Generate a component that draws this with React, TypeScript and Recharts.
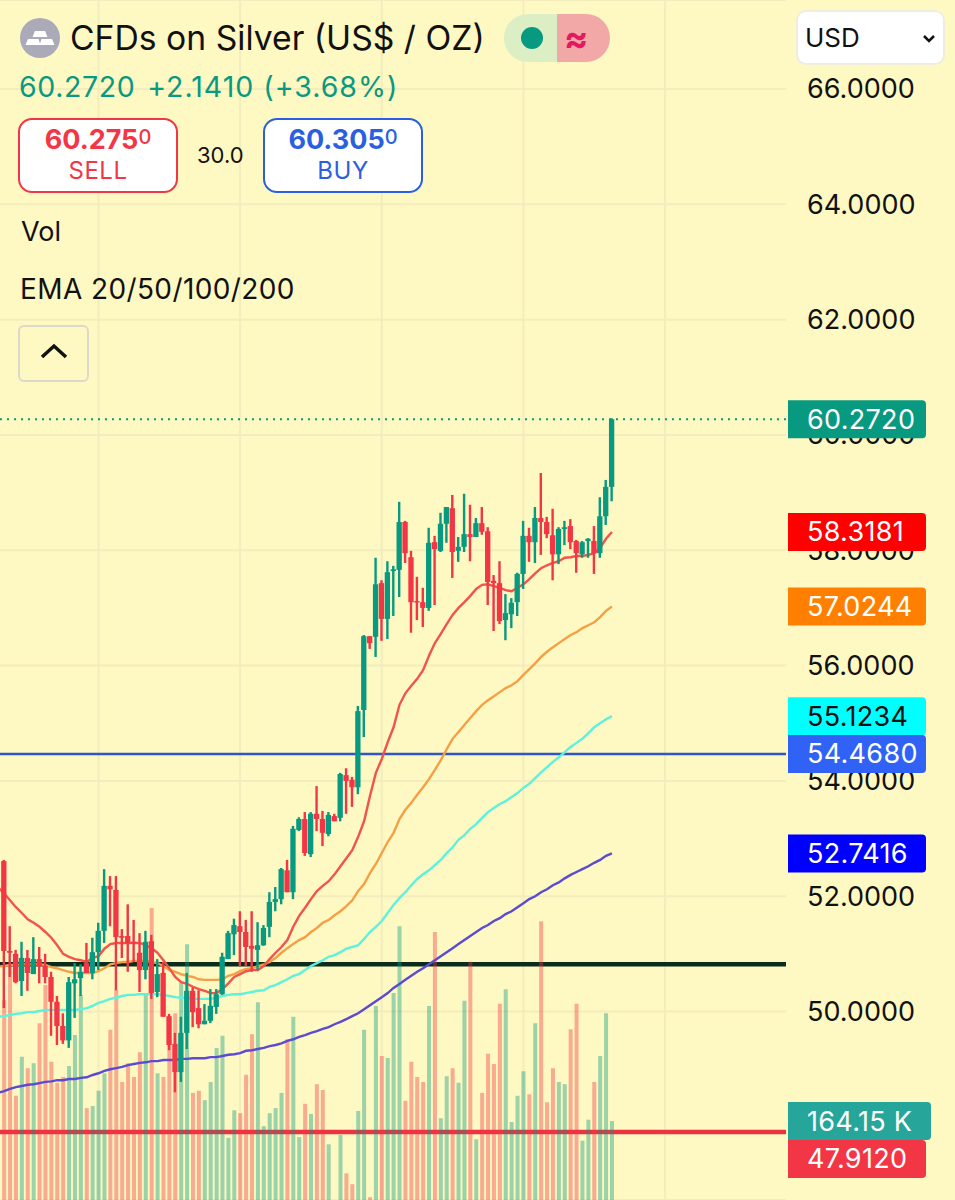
import React from 'react';
import {
  Bar,
  CartesianGrid,
  Cell,
  ComposedChart,
  Line,
  ReferenceLine,
  XAxis,
  YAxis,
} from 'recharts';

const GREEN = '#089981';
const RED = '#F23645';
const FONT = 'Inter, "Noto Sans", sans-serif';

const opens = [
  52.61, 51.05, 51.0, 50.53, 50.93, 50.65, 50.91, 50.79, 50.6, 50.17, 49.75, 49.5, 50.49, 50.58, 50.84, 50.67,
  51.03, 51.4, 52.18, 52.11, 51.31, 51.31, 51.21, 51.02, 50.72, 51.22, 50.34, 50.67, 49.92, 49.44, 48.95, 49.63,
  50.36, 50.06, 49.78, 49.84, 50.08, 50.3, 50.91, 51.34, 51.48, 51.38, 51.14, 51.07, 51.15, 51.47, 51.9, 51.95,
  52.45, 52.07, 53.15, 53.34, 52.73, 53.43, 53.34, 53.08, 53.39, 53.36, 54.1, 54.02, 53.89, 55.23, 56.51, 56.5,
  57.43, 56.81, 57.64, 57.66, 58.49, 57.88, 57.12, 57.1, 57.0, 58.14, 57.99, 58.46, 58.73, 57.99, 58.06, 58.28,
  58.23, 58.47, 58.33, 57.47, 57.43, 56.79, 56.89, 57.1, 57.59, 58.25, 58.14, 58.56, 58.49, 58.26, 57.93, 58.37,
  58.42, 58.16, 57.93, 58.16, 58.16, 57.95, 58.59, 59.1,
];
const highs = [
  52.63, 51.48, 51.07, 51.21, 51.07, 51.29, 51.12, 51.0, 50.69, 50.27, 49.97, 50.6, 50.84, 50.82, 51.19, 51.28,
  51.54, 52.47, 52.35, 52.35, 51.43, 51.86, 51.59, 51.36, 51.4, 51.33, 50.91, 50.86, 49.96, 49.63, 49.91, 50.67,
  50.42, 50.37, 50.13, 50.39, 50.39, 51.02, 51.4, 51.61, 51.74, 51.59, 51.74, 51.55, 51.5, 52.07, 52.16, 52.49,
  52.63, 53.22, 53.37, 53.46, 53.46, 53.91, 53.48, 53.46, 53.43, 54.14, 54.22, 54.07, 55.3, 56.53, 56.51, 57.87,
  57.48, 57.81, 57.73, 58.84, 58.51, 57.99, 57.54, 57.35, 58.39, 58.25, 58.65, 58.75, 58.96, 58.23, 58.98, 58.79,
  58.56, 58.75, 58.4, 57.57, 57.81, 57.24, 57.17, 57.61, 58.51, 58.39, 58.75, 59.34, 58.58, 58.72, 58.4, 58.51,
  58.54, 58.18, 58.16, 58.21, 58.42, 58.92, 59.22, 60.29,
];
const lows = [
  50.06, 50.6, 50.49, 50.27, 50.36, 50.65, 50.49, 50.49, 49.58, 49.42, 49.44, 49.37, 49.89, 50.27, 50.67, 50.56,
  50.72, 51.19, 51.48, 50.37, 50.93, 50.69, 50.86, 50.34, 50.56, 50.22, 50.25, 49.91, 49.33, 48.6, 48.78, 49.35,
  49.73, 49.71, 49.78, 49.8, 49.96, 50.29, 50.91, 50.98, 50.79, 50.79, 50.69, 50.72, 51.14, 51.29, 51.74, 51.86,
  52.07, 51.95, 53.13, 52.7, 52.68, 53.13, 52.87, 53.04, 53.3, 53.3, 53.43, 53.55, 53.77, 54.76, 56.29, 56.15,
  56.43, 56.46, 56.86, 57.19, 57.78, 56.57, 56.79, 56.67, 56.95, 57.05, 57.97, 58.13, 57.52, 57.8, 57.97, 57.81,
  58.23, 58.27, 57.05, 56.6, 56.72, 56.44, 56.65, 56.86, 57.33, 57.8, 57.78, 57.92, 58.21, 57.48, 57.76, 58.09,
  58.02, 57.61, 57.87, 57.87, 57.59, 57.87, 58.44, 58.85,
];
const closes = [
  51.05, 51.02, 50.51, 50.93, 50.67, 50.91, 50.79, 50.6, 50.17, 49.75, 49.5, 50.51, 50.56, 50.69, 50.67, 51.03,
  51.4, 52.18, 52.12, 51.29, 51.28, 51.19, 51.19, 50.72, 51.21, 50.32, 50.65, 49.91, 49.42, 48.95, 49.63, 50.36,
  49.99, 49.78, 49.84, 50.1, 50.3, 50.95, 51.36, 51.5, 51.38, 51.12, 51.09, 51.15, 51.45, 51.9, 51.95, 52.47,
  52.07, 53.17, 53.34, 52.75, 53.43, 53.34, 53.1, 53.41, 53.3, 54.12, 54.0, 53.89, 55.21, 56.51, 56.39, 57.41,
  56.81, 57.62, 57.67, 58.49, 57.95, 57.1, 57.1, 57.0, 58.13, 58.02, 58.46, 58.75, 57.97, 58.06, 58.28, 58.23,
  58.47, 58.32, 57.45, 57.43, 56.77, 56.91, 57.09, 57.59, 58.25, 58.14, 58.56, 58.49, 58.28, 57.93, 58.37, 58.4,
  58.14, 57.95, 58.14, 58.2, 57.95, 58.59, 59.1, 60.272,
];
const volumes = [
  331, 377, 199, 253, 237, 244, 299, 352, 246, 217, 225, 240, 283, 338, 182, 185,
  206, 230, 290, 345, 218, 244, 225, 259, 338, 458, 230, 225, 276, 313, 355, 408,
  203, 206, 193, 218, 265, 282, 141, 179, 175, 228, 284, 328, 157, 175, 182, 203,
  277, 308, 142, 188, 174, 215, 207, 132, 48, 145, 92, 77, 178, 290, 59, 323,
  254, 251, 341, 433, 192, 246, 225, 218, 323, 425, 168, 226, 237, 217, 330, 384,
  139, 203, 257, 243, 326, 346, 163, 199, 233, 201, 299, 440, 190, 237, 218, 215,
  291, 326, 137, 166, 218, 254, 313, 164.15,
];
const ema20 = [
  52.05, 51.93, 51.81, 51.71, 51.6, 51.54, 51.47, 51.38, 51.28, 51.15, 51.0, 50.95, 50.91, 50.89, 50.86, 50.93,
  50.96, 51.09, 51.17, 51.19, 51.19, 51.19, 51.19, 51.19, 51.15, 51.1, 51.02, 50.89, 50.75, 50.6, 50.51, 50.48,
  50.43, 50.39, 50.36, 50.32, 50.32, 50.39, 50.49, 50.6, 50.65, 50.7, 50.72, 50.72, 50.79, 50.91, 51.02, 51.12,
  51.24, 51.47, 51.66, 51.8, 51.95, 52.09, 52.18, 52.26, 52.38, 52.52, 52.66, 52.8, 53.03, 53.3, 53.74, 54.14,
  54.38, 54.67, 54.93, 55.32, 55.52, 55.65, 55.77, 55.92, 56.17, 56.39, 56.55, 56.72, 56.88, 57.0, 57.1, 57.21,
  57.33, 57.4, 57.41, 57.38, 57.35, 57.31, 57.29, 57.35, 57.41, 57.5, 57.6, 57.69, 57.74, 57.78, 57.81, 57.87,
  57.88, 57.9, 57.9, 57.92, 57.95, 58.04, 58.2, 58.3181,
];
const ema50 = [
  50.79, 50.81, 50.81, 50.82, 50.82, 50.82, 50.82, 50.81, 50.77, 50.75, 50.72, 50.69, 50.67, 50.67, 50.67, 50.67,
  50.7, 50.75, 50.82, 50.84, 50.86, 50.86, 50.88, 50.88, 50.88, 50.86, 50.84, 50.79, 50.72, 50.69, 50.65, 50.62,
  50.6, 50.56, 50.55, 50.55, 50.55, 50.56, 50.62, 50.65, 50.7, 50.74, 50.75, 50.79, 50.82, 50.86, 50.93, 51.02,
  51.1, 51.17, 51.24, 51.29, 51.38, 51.45, 51.54, 51.59, 51.67, 51.74, 51.83, 51.93, 52.09, 52.21, 52.4, 52.56,
  52.75, 52.94, 53.1, 53.34, 53.5, 53.62, 53.76, 53.89, 54.03, 54.19, 54.36, 54.55, 54.73, 54.85, 54.97, 55.09,
  55.21, 55.32, 55.4, 55.47, 55.54, 55.61, 55.66, 55.73, 55.84, 55.94, 56.04, 56.15, 56.24, 56.32, 56.39, 56.46,
  56.53, 56.58, 56.65, 56.7, 56.75, 56.84, 56.95, 57.0244,
];
const ema100 = [
  49.92, 49.94, 49.96, 49.97, 49.99, 49.99, 50.01, 50.03, 50.03, 50.03, 50.03, 50.03, 50.03, 50.04, 50.06, 50.1,
  50.15, 50.18, 50.22, 50.24, 50.27, 50.29, 50.29, 50.3, 50.3, 50.3, 50.3, 50.29, 50.27, 50.25, 50.24, 50.24,
  50.22, 50.22, 50.22, 50.22, 50.24, 50.27, 50.29, 50.3, 50.3, 50.32, 50.34, 50.36, 50.37, 50.43, 50.46, 50.51,
  50.56, 50.62, 50.65, 50.72, 50.79, 50.84, 50.89, 50.95, 50.98, 51.03, 51.09, 51.12, 51.15, 51.26, 51.38, 51.47,
  51.57, 51.71, 51.85, 51.97, 52.07, 52.19, 52.3, 52.38, 52.45, 52.54, 52.63, 52.75, 52.85, 52.98, 53.06, 53.17,
  53.25, 53.36, 53.46, 53.53, 53.6, 53.65, 53.72, 53.79, 53.88, 53.95, 54.05, 54.15, 54.24, 54.33, 54.41, 54.5,
  54.59, 54.66, 54.73, 54.83, 54.93, 55.0, 55.07, 55.1234,
];
const ema200 = [
  48.62, 48.66, 48.69, 48.71, 48.73, 48.74, 48.76, 48.78, 48.79, 48.81, 48.81, 48.83, 48.83, 48.85, 48.86, 48.9,
  48.93, 48.97, 49.0, 49.02, 49.04, 49.07, 49.09, 49.11, 49.12, 49.14, 49.14, 49.16, 49.16, 49.16, 49.18, 49.18,
  49.19, 49.19, 49.19, 49.21, 49.21, 49.23, 49.25, 49.26, 49.28, 49.32, 49.33, 49.35, 49.37, 49.4, 49.42, 49.45,
  49.49, 49.52, 49.56, 49.59, 49.63, 49.66, 49.7, 49.73, 49.78, 49.82, 49.87, 49.92, 49.97, 50.04, 50.11, 50.18,
  50.25, 50.32, 50.41, 50.48, 50.55, 50.62, 50.69, 50.75, 50.82, 50.89, 50.96, 51.03, 51.1, 51.17, 51.24, 51.31,
  51.38, 51.45, 51.5, 51.57, 51.62, 51.69, 51.74, 51.81, 51.88, 51.95, 52.0, 52.07, 52.12, 52.19, 52.24, 52.31,
  52.37, 52.42, 52.47, 52.52, 52.58, 52.63, 52.7, 52.7416,
];

// the averages run in from a bar just off the left edge
const offscreenBar = { i: -1, ema20: 52.15, ema50: 50.78, ema100: 49.91, ema200: 48.59 };

const priceTicks = [66, 64, 62, 60, 58, 56, 54, 52, 50];
const timeTicks = [16, 40, 64, 88, 112];

const candles = opens.map((open, i) => ({
  i,
  open,
  high: highs[i],
  low: lows[i],
  close: closes[i],
  volume: volumes[i],
  ema20: ema20[i],
  ema50: ema50[i],
  ema100: ema100[i],
  ema200: ema200[i],
}));
const emaRows = [offscreenBar, ...candles];

function Candle(props: any) {
  const { x, y, width, height, payload } = props;
  const { open, high, low, close } = payload;
  const perUnit = height / (high - low);
  const top = y + (high - Math.max(open, close)) * perUnit;
  const bottom = y + (high - Math.min(open, close)) * perUnit;
  const color = close >= open ? GREEN : RED;
  const mid = x + width / 2;
  return (
    <g>
      <rect x={mid - 1.2} y={y} width={2.4} height={height} fill={color} />
      <rect x={x} y={top} width={width} height={Math.max(bottom - top, 1.5)} fill={color} />
    </g>
  );
}

function PriceTick({ y, payload }: any) {
  return (
    <text x={807} y={y} dominantBaseline="central" fontFamily={FONT} fontSize={27} fill="#111">
      {payload.value.toFixed(4)}
    </text>
  );
}

// dy pushes a tag off its own level when it would sit on another tag
function Tag({ viewBox, text, bg, fg = '#fff', w = 138, dy = 0 }: any) {
  const mid = viewBox.y + dy;
  const y = mid - 19;
  return (
    <g>
      <path d={`M788 ${y}H${788 + w - 4}q4 0 4 4V${y + 34}q0 4 -4 4H788Z`} fill={bg} />
      <text x={807} y={mid} dominantBaseline="central" fontFamily={FONT} fontSize={27} letterSpacing={0.3} fill={fg}>
        {text}
      </text>
    </g>
  );
}

const abs = (left: number, top: number, extra: React.CSSProperties = {}): React.CSSProperties => ({
  position: 'absolute',
  left,
  top,
  fontFamily: FONT,
  whiteSpace: 'nowrap',
  lineHeight: 1,
  ...extra,
});

function QuoteBox({ left, color, price, sup, label }: any) {
  return (
    <div
      style={abs(left, 118, {
        width: 160,
        height: 75,
        boxSizing: 'border-box',
        border: `2px solid ${color}`,
        borderRadius: 14,
        background: '#fff',
        color,
        textAlign: 'center',
      })}
    >
      <div style={{ fontSize: 27, fontWeight: 700, marginTop: 6 }}>
        {price}
        <span style={{ fontSize: 20, fontWeight: 500, verticalAlign: 5 }}>{sup}</span>
      </div>
      <div style={{ fontSize: 24, letterSpacing: 0.5, marginTop: 6 }}>{label}</div>
    </div>
  );
}

function Header() {
  return (
    <>
      <svg style={{ position: 'absolute', left: 20, top: 18 }} width={40} height={40}>
        <circle cx={20} cy={20} r={20} fill="#ABAAB8" />
        <path d="M15 10h10l2.500 6h-15zM8 18h10.500l2 6h-15zM21.500 18h10.500l2.500 6h-15z" fill="#fff" transform="translate(0 3)" />
      </svg>
      <div style={abs(70, 21, { fontSize: 33.7, color: '#111' })}>CFDs on Silver (US$ / OZ)</div>
      <div
        style={abs(504, 14, {
          width: 106,
          height: 48,
          borderRadius: 24,
          overflow: 'hidden',
          background: 'linear-gradient(90deg, #DCEEC4 0 50%, #F2A8A6 50% 100%)',
        })}
      >
        <div style={abs(17, 13, { width: 22, height: 22, borderRadius: 11, background: GREEN })} />
        <div style={abs(60, 6, { fontSize: 36, fontWeight: 700, color: '#E5195F' })}>≈</div>
      </div>
      <div style={abs(19, 73, { fontSize: 28.5, color: GREEN, letterSpacing: 0.6 })}>
        60.2720<span style={{ marginLeft: 12, letterSpacing: 1 }}>+2.1410 (+3.68%)</span>
      </div>
      <QuoteBox left={18} color={RED} price="60.275" sup="0" label="SELL" />
      <div style={abs(197, 144, { fontSize: 22, color: '#111' })}>30.0</div>
      <QuoteBox left={263} color="#2C5FE0" price="60.305" sup="0" label="BUY" />
      <div style={abs(21, 218, { fontSize: 27, color: '#111' })}>Vol</div>
      <div style={abs(20, 275, { fontSize: 28, letterSpacing: 0.4, color: '#111' })}>EMA 20/50/100/200</div>
      <div
        style={abs(18, 325, {
          width: 71,
          height: 57,
          boxSizing: 'border-box',
          border: '2px solid #DCD9CC',
          borderRadius: 6,
        })}
      >
        <svg style={{ position: 'absolute', left: 20, top: 15 }} width={28} height={20}>
          <path d="M2 15L14 4L26 15" fill="none" stroke="#111" strokeWidth={3.500} />
        </svg>
      </div>
      <div
        style={abs(796, 10, {
          width: 149,
          height: 55,
          boxSizing: 'border-box',
          background: '#fff',
          border: '2px solid #F0EDE0',
          borderRadius: 10,
          fontSize: 26,
          color: '#111',
          padding: '13px 0 0 7px',
        })}
      >
        USD
        <svg style={{ position: 'absolute', left: 124, top: 22 }} width={14} height={10}>
          <path d="M2 2L7 7L12 2" fill="none" stroke="#111" strokeWidth={2.500} />
        </svg>
      </div>
    </>
  );
}

// every layer shares the same scales, so stacking them keeps the drawing order of the original
function Layer({ data = candles, labels = false, children }: any) {
  return (
    <div style={{ position: 'absolute', left: 0, top: 0 }}>
      <ComposedChart width={955} height={1200} data={data} margin={{ top: 0, right: 0, bottom: 0, left: 0 }}>
        <XAxis
          dataKey="i"
          type="number"
          scale="linear"
          domain={[-0.695, 132.5]}
          allowDataOverflow
          height={0}
          tick={false}
          tickLine={false}
          axisLine={false}
        />
        <YAxis
          yAxisId="price"
          orientation="right"
          width={169}
          type="number"
          domain={[46.732, 67.5435]}
          allowDataOverflow
          ticks={priceTicks}
          interval={0}
          tick={labels ? <PriceTick /> : false}
          tickLine={false}
          axisLine={false}
        />
        <YAxis yAxisId="volume" hide type="number" domain={[55.2, 1711.2]} allowDataOverflow />
        {children}
      </ComposedChart>
    </div>
  );
}

export default function App() {
  return (
    <div style={{ position: 'absolute', left: 0, top: 0, width: 955, height: 1200, background: '#FEF8C2', overflow: 'hidden' }}>
      <Layer labels>
        <CartesianGrid yAxisId="price" vertical={false} stroke="#F3ECBC" strokeWidth={2} />
        {timeTicks.map((t) => (
          <ReferenceLine key={t} yAxisId="price" x={t} stroke="#F3ECBC" strokeWidth={2} />
        ))}
        <ReferenceLine yAxisId="price" y={50.82} stroke="#0B2B1C" strokeWidth={4.500} />
        <ReferenceLine yAxisId="price" y={47.912} stroke="#EC3344" strokeWidth={4.500} />
        <ReferenceLine yAxisId="price" y={54.468} stroke="#2F55C8" strokeWidth={2.500} />
        <ReferenceLine yAxisId="price" y={60.272} stroke={GREEN} strokeWidth={2} strokeDasharray="2 5" />
      </Layer>

      <Layer>
        <Bar yAxisId="volume" dataKey="volume" barSize={4} isAnimationActive={false}>
          {candles.map((r) => (
            <Cell key={r.i} fill={r.close >= r.open ? GREEN : RED} fillOpacity={0.4} />
          ))}
        </Bar>
      </Layer>

      <Layer data={emaRows}>
        <Line yAxisId="price" dataKey="ema200" type="linear" stroke="#5B4BD2" strokeWidth={2.400} dot={false} activeDot={false} isAnimationActive={false} />
        <Line yAxisId="price" dataKey="ema100" type="linear" stroke="#5DF2DE" strokeWidth={2.400} dot={false} activeDot={false} isAnimationActive={false} />
        <Line yAxisId="price" dataKey="ema50" type="linear" stroke="#F6A045" strokeWidth={2.400} dot={false} activeDot={false} isAnimationActive={false} />
        <Line yAxisId="price" dataKey="ema20" type="linear" stroke="#F0544A" strokeWidth={2.400} dot={false} activeDot={false} isAnimationActive={false} />
      </Layer>

      <Layer>
        <Bar
          yAxisId="price"
          dataKey={(r: any) => [r.low, r.high]}
          barSize={6}
          shape={<Candle />}
          isAnimationActive={false}
        />
      </Layer>

      <Layer>
        <ReferenceLine yAxisId="price" y={60.272} stroke="none" label={<Tag text="60.2720" bg={GREEN} />} />
        <ReferenceLine yAxisId="price" y={58.3181} stroke="none" label={<Tag text="58.3181" bg="#FF0000" />} />
        <ReferenceLine yAxisId="price" y={57.0244} stroke="none" label={<Tag text="57.0244" bg="#FF7F00" />} />
        <ReferenceLine yAxisId="price" y={55.1234} stroke="none" label={<Tag text="55.1234" bg="#00FFFF" fg="#111" />} />
        <ReferenceLine yAxisId="price" y={54.468} stroke="none" label={<Tag text="54.4680" bg="#2F62F5" />} />
        <ReferenceLine yAxisId="price" y={52.7416} stroke="none" label={<Tag text="52.7416" bg="#0000FF" />} />
        <ReferenceLine yAxisId="volume" y={164.15} stroke="none" label={<Tag text="164.15 K" bg="#26A69A" w={143} />} />
        <ReferenceLine yAxisId="price" y={47.912} stroke="none" label={<Tag text="47.9120" bg={RED} dy={27} />} />
      </Layer>

      <Header />
    </div>
  );
}
